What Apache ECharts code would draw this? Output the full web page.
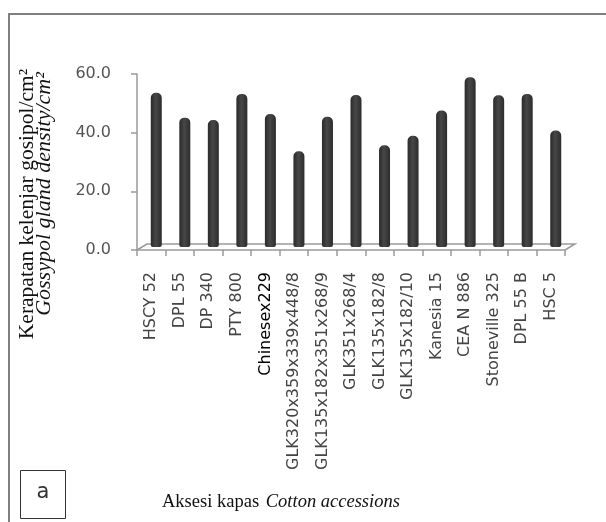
<!DOCTYPE html>
<html>
<head>
<meta charset="utf-8">
<script src="https://cdn.jsdelivr.net/npm/echarts@6/dist/echarts.min.js"></script>
<style>
  html, body { margin: 0; padding: 0; background: #fff; }
  #chart { width: 606px; height: 522px; }
</style>
</head>
<body>
<div id="chart"></div>
<script>
const categories = [
  'HSCY 52', 'DPL 55', 'DP 340', 'PTY 800', 'Chinesex229',
  'GLK320x359x339x448/8', 'GLK135x182x351x268/9', 'GLK351x268/4',
  'GLK135x182/8', 'GLK135x182/10', 'Kanesia 15', 'CEA N 886',
  'Stoneville 325', 'DPL 55 B', 'HSC 5'
];
const glandDensity = [52.6, 44.1, 43.3, 52.2, 45.3, 32.6, 44.4, 51.8, 34.7, 37.9, 46.5, 57.9, 51.7, 52.2, 39.7];
const yTicks = [0, 20, 40, 60];
const yTitleLine1 = 'Kerapatan kelenjar gosipol/cm²';
const yTitleLine2 = 'Gossypol gland density/cm²';
const xTitleNormal = 'Aksesi kapas';
const xTitleItalic = 'Cotton accessions';
const panelLetter = 'a';

const chart = echarts.init(document.getElementById('chart'), null, { renderer: 'canvas' });

const catData = categories.map(c => c === 'Chinesex229'
  ? { value: c, textStyle: { color: '#000' } } : c);

const axisGray = '#9a9a9a';

const option = {
  animation: false,
  backgroundColor: '#ffffff',
  grid: [
    { left: 137, top: 74, width: 428, height: 176 },
    { left: 142, top: 71, width: 428, height: 176 }
  ],
  xAxis: [
    {
      type: 'category', gridIndex: 0, data: catData,
      axisLine: { show: true, lineStyle: { color: axisGray, width: 1.5 } },
      axisTick: { show: true, length: 6, lineStyle: { color: axisGray, width: 1.5 } },
      axisLabel: {
        interval: 0, rotate: 90, margin: 22,
        fontFamily: 'DejaVu Sans', fontSize: 16, color: '#444'
      }
    },
    { type: 'category', gridIndex: 1, data: categories, show: false }
  ],
  yAxis: [
    {
      type: 'value', gridIndex: 0, min: yTicks[0], max: yTicks[yTicks.length - 1], interval: 20,
      axisLine: { show: true, lineStyle: { color: axisGray, width: 1.5 } },
      axisTick: { show: true, length: 6, lineStyle: { color: axisGray, width: 1.5 } },
      splitLine: { show: false },
      axisLabel: {
        margin: 26, fontFamily: 'DejaVu Sans', fontSize: 16, color: '#555',
        formatter: v => v.toFixed(1)
      }
    },
    { type: 'value', gridIndex: 1, min: yTicks[0], max: yTicks[yTicks.length - 1], show: false }
  ],
  series: [{
    type: 'bar', xAxisIndex: 1, yAxisIndex: 1,
    data: glandDensity, barWidth: 11,
    itemStyle: {
      borderRadius: [5, 5, 2, 2],
      color: new echarts.graphic.LinearGradient(0, 0, 1, 0, [
        { offset: 0, color: '#2a2a2a' },
        { offset: 0.45, color: '#474747' },
        { offset: 1, color: '#2c2c2c' }
      ])
    }
  }],
  graphic: [
    { id: 'borderTop', type: 'line', shape: { x1: 8, y1: 14, x2: 606, y2: 14 }, style: { stroke: '#808080', lineWidth: 2 } },
    { id: 'borderLeft', type: 'line', shape: { x1: 9, y1: 13, x2: 9, y2: 522 }, style: { stroke: '#808080', lineWidth: 2 } },
    {
      id: 'yt1', type: 'text', x: 27, y: 204, rotation: Math.PI / 2,
      style: { text: yTitleLine1, font: '21.5px "Liberation Serif"', fill: '#111', textAlign: 'center', textVerticalAlign: 'middle' }
    },
    {
      id: 'yt2', type: 'text', x: 44, y: 194, rotation: Math.PI / 2,
      style: { text: yTitleLine2, font: 'italic 22px "Liberation Serif"', fill: '#111', textAlign: 'center', textVerticalAlign: 'middle' }
    },
    { id: 'box', type: 'rect', shape: { x: 20.5, y: 470.5, width: 45, height: 48 }, style: { fill: '#fff', stroke: '#333', lineWidth: 1 } },
    {
      id: 'letter', type: 'text', x: 43, y: 493,
      style: { text: panelLetter, font: '21px "DejaVu Sans"', fill: '#333', textAlign: 'center', textVerticalAlign: 'middle' }
    },
    {
      id: 'xt', type: 'text', x: 162, y: 502,
      style: {
        text: '{n|' + xTitleNormal + '}  {i|' + xTitleItalic + '}',
        textVerticalAlign: 'middle',
        rich: {
          n: { font: '18.5px "Liberation Serif"', fill: '#111' },
          i: { font: 'italic 18.5px "Liberation Serif"', fill: '#111' }
        }
      }
    }
  ]
};

chart.setOption(option);

// 3D-style floor drawn from the axis scale
const c0 = chart.convertToPixel({ xAxisIndex: 0, yAxisIndex: 0 }, [0, 0]);
const c1 = chart.convertToPixel({ xAxisIndex: 0, yAxisIndex: 0 }, [1, 0]);
const band = c1[0] - c0[0];
const xL = c0[0] - band / 2;
const xR = xL + band * categories.length;
const y0 = c0[1];
const dx = 10, dy = -6;
chart.setOption({
  graphic: [{
    id: 'floor', type: 'polyline', z: 1,
    shape: { points: [[xL, y0], [xL + dx, y0 + dy], [xR + dx, y0 + dy], [xR, y0]] },
    style: { stroke: axisGray, lineWidth: 1.5, fill: null }
  }]
});
</script>
</body>
</html>
